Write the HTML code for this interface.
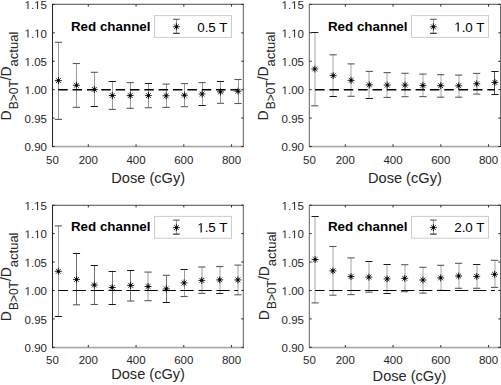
<!DOCTYPE html>
<html><head><meta charset="utf-8"><style>
html,body{margin:0;padding:0;background:#fff;}
body{width:501px;height:385px;overflow:hidden;}
svg{display:block;font-family:"Liberation Sans",sans-serif;}
</style></head><body>
<svg width="501" height="385" viewBox="0 0 501 385">
<rect width="501" height="385" fill="#fff"/>
<g><line x1="58.5" y1="42.3" x2="58.5" y2="119.4" stroke="#9a9a9a" stroke-width="1"/><line x1="54.8" y1="42.3" x2="62" y2="42.3" stroke="#5a5a5a" stroke-width="1.1"/><line x1="54.8" y1="119.4" x2="62" y2="119.4" stroke="#5a5a5a" stroke-width="1.1"/><line x1="76.5" y1="63.5" x2="76.5" y2="107.3" stroke="#9a9a9a" stroke-width="1"/><line x1="72.8" y1="63.5" x2="80" y2="63.5" stroke="#5a5a5a" stroke-width="1.1"/><line x1="72.8" y1="107.3" x2="80" y2="107.3" stroke="#5a5a5a" stroke-width="1.1"/><line x1="94.5" y1="72.3" x2="94.5" y2="106.3" stroke="#9a9a9a" stroke-width="1"/><line x1="90.7" y1="72.3" x2="97.9" y2="72.3" stroke="#5a5a5a" stroke-width="1.1"/><line x1="90.7" y1="106.5" x2="97.9" y2="106.5" stroke="#1a1a1a" stroke-width="1"/><line x1="112.5" y1="81.3" x2="112.5" y2="109.4" stroke="#9a9a9a" stroke-width="1"/><line x1="108.7" y1="81.5" x2="115.9" y2="81.5" stroke="#1a1a1a" stroke-width="1"/><line x1="108.7" y1="109.4" x2="115.9" y2="109.4" stroke="#5a5a5a" stroke-width="1.1"/><line x1="130.5" y1="82.6" x2="130.5" y2="108.3" stroke="#9a9a9a" stroke-width="1"/><line x1="126.6" y1="82.6" x2="133.8" y2="82.6" stroke="#5a5a5a" stroke-width="1.1"/><line x1="126.6" y1="108.3" x2="133.8" y2="108.3" stroke="#5a5a5a" stroke-width="1.1"/><line x1="148.5" y1="83.4" x2="148.5" y2="107.7" stroke="#9a9a9a" stroke-width="1"/><line x1="144.8" y1="83.5" x2="152" y2="83.5" stroke="#1a1a1a" stroke-width="1"/><line x1="144.8" y1="107.7" x2="152" y2="107.7" stroke="#5a5a5a" stroke-width="1.1"/><line x1="166.5" y1="84.1" x2="166.5" y2="107.4" stroke="#9a9a9a" stroke-width="1"/><line x1="162.5" y1="84.1" x2="169.7" y2="84.1" stroke="#5a5a5a" stroke-width="1.1"/><line x1="162.5" y1="107.4" x2="169.7" y2="107.4" stroke="#5a5a5a" stroke-width="1.1"/><line x1="184.5" y1="83.6" x2="184.5" y2="106.7" stroke="#9a9a9a" stroke-width="1"/><line x1="180.8" y1="83.6" x2="188" y2="83.6" stroke="#5a5a5a" stroke-width="1.1"/><line x1="180.8" y1="106.7" x2="188" y2="106.7" stroke="#5a5a5a" stroke-width="1.1"/><line x1="202.5" y1="82.6" x2="202.5" y2="105.4" stroke="#9a9a9a" stroke-width="1"/><line x1="198.5" y1="82.6" x2="205.7" y2="82.6" stroke="#5a5a5a" stroke-width="1.1"/><line x1="198.5" y1="105.5" x2="205.7" y2="105.5" stroke="#1a1a1a" stroke-width="1"/><line x1="220.5" y1="81.3" x2="220.5" y2="103.3" stroke="#9a9a9a" stroke-width="1"/><line x1="216.9" y1="81.5" x2="224.1" y2="81.5" stroke="#1a1a1a" stroke-width="1"/><line x1="216.9" y1="103.3" x2="224.1" y2="103.3" stroke="#5a5a5a" stroke-width="1.1"/><line x1="238.5" y1="79.5" x2="238.5" y2="103.5" stroke="#9a9a9a" stroke-width="1"/><line x1="234.4" y1="79.5" x2="241.6" y2="79.5" stroke="#5a5a5a" stroke-width="1.1"/><line x1="234.4" y1="103.5" x2="241.6" y2="103.5" stroke="#5a5a5a" stroke-width="1.1"/><line x1="58.2" y1="89.8" x2="238" y2="89.8" stroke="#000" stroke-width="1.6" stroke-dasharray="9.5 4.85" stroke-dashoffset="0"/><g stroke="#000" stroke-width="0.85"><line x1="54.9" y1="80.6" x2="61.9" y2="80.6"/><line x1="58.4" y1="77.1" x2="58.4" y2="84.1"/><line x1="56" y1="78.2" x2="60.8" y2="83"/><line x1="56" y1="83" x2="60.8" y2="78.2"/></g><circle cx="58.4" cy="80.6" r="1.35" fill="#000"/><g stroke="#000" stroke-width="0.85"><line x1="72.9" y1="85.3" x2="79.9" y2="85.3"/><line x1="76.4" y1="81.8" x2="76.4" y2="88.8"/><line x1="74" y1="82.9" x2="78.8" y2="87.7"/><line x1="74" y1="87.7" x2="78.8" y2="82.9"/></g><circle cx="76.4" cy="85.3" r="1.35" fill="#000"/><g stroke="#000" stroke-width="0.85"><line x1="90.8" y1="89.4" x2="97.8" y2="89.4"/><line x1="94.3" y1="85.9" x2="94.3" y2="92.9"/><line x1="91.9" y1="87" x2="96.7" y2="91.8"/><line x1="91.9" y1="91.8" x2="96.7" y2="87"/></g><circle cx="94.3" cy="89.4" r="1.35" fill="#000"/><g stroke="#000" stroke-width="0.85"><line x1="108.8" y1="95.5" x2="115.8" y2="95.5"/><line x1="112.3" y1="92" x2="112.3" y2="99"/><line x1="109.9" y1="93.1" x2="114.7" y2="97.9"/><line x1="109.9" y1="97.9" x2="114.7" y2="93.1"/></g><circle cx="112.3" cy="95.5" r="1.35" fill="#000"/><g stroke="#000" stroke-width="0.85"><line x1="126.7" y1="95.6" x2="133.7" y2="95.6"/><line x1="130.2" y1="92.1" x2="130.2" y2="99.1"/><line x1="127.8" y1="93.2" x2="132.6" y2="98"/><line x1="127.8" y1="98" x2="132.6" y2="93.2"/></g><circle cx="130.2" cy="95.6" r="1.35" fill="#000"/><g stroke="#000" stroke-width="0.85"><line x1="144.9" y1="95.6" x2="151.9" y2="95.6"/><line x1="148.4" y1="92.1" x2="148.4" y2="99.1"/><line x1="146" y1="93.2" x2="150.8" y2="98"/><line x1="146" y1="98" x2="150.8" y2="93.2"/></g><circle cx="148.4" cy="95.6" r="1.35" fill="#000"/><g stroke="#000" stroke-width="0.85"><line x1="162.6" y1="95.8" x2="169.6" y2="95.8"/><line x1="166.1" y1="92.3" x2="166.1" y2="99.3"/><line x1="163.7" y1="93.4" x2="168.5" y2="98.2"/><line x1="163.7" y1="98.2" x2="168.5" y2="93.4"/></g><circle cx="166.1" cy="95.8" r="1.35" fill="#000"/><g stroke="#000" stroke-width="0.85"><line x1="180.9" y1="95.2" x2="187.9" y2="95.2"/><line x1="184.4" y1="91.7" x2="184.4" y2="98.7"/><line x1="182" y1="92.8" x2="186.8" y2="97.6"/><line x1="182" y1="97.6" x2="186.8" y2="92.8"/></g><circle cx="184.4" cy="95.2" r="1.35" fill="#000"/><g stroke="#000" stroke-width="0.85"><line x1="198.6" y1="94" x2="205.6" y2="94"/><line x1="202.1" y1="90.5" x2="202.1" y2="97.5"/><line x1="199.7" y1="91.6" x2="204.5" y2="96.4"/><line x1="199.7" y1="96.4" x2="204.5" y2="91.6"/></g><circle cx="202.1" cy="94" r="1.35" fill="#000"/><g stroke="#000" stroke-width="0.85"><line x1="217" y1="91.9" x2="224" y2="91.9"/><line x1="220.5" y1="88.4" x2="220.5" y2="95.4"/><line x1="218.1" y1="89.5" x2="222.9" y2="94.3"/><line x1="218.1" y1="94.3" x2="222.9" y2="89.5"/></g><circle cx="220.5" cy="91.9" r="1.35" fill="#000"/><g stroke="#000" stroke-width="0.85"><line x1="234.5" y1="91.2" x2="241.5" y2="91.2"/><line x1="238" y1="87.7" x2="238" y2="94.7"/><line x1="235.6" y1="88.8" x2="240.4" y2="93.6"/><line x1="235.6" y1="93.6" x2="240.4" y2="88.8"/></g><circle cx="238" cy="91.2" r="1.35" fill="#000"/><rect x="52" y="3" width="192" height="1" fill="#d6d6d6"/><rect x="52" y="145" width="192" height="1" fill="#e6e6e6"/><rect x="52" y="147" width="192" height="1" fill="#dcdcdc"/><rect x="242" y="4" width="1" height="143" fill="#dedede"/><rect x="52" y="4" width="192" height="1" fill="#717171"/><rect x="52" y="146" width="192" height="1" fill="#a9a9a9"/><rect x="52" y="4" width="1" height="143" fill="#242424"/><rect x="243" y="4" width="1" height="143" fill="#7e7e7e"/><path d="M52.5 146.5h2.2M243.5 146.5h-2.2M52.5 118.08h2.2M243.5 118.08h-2.2M52.5 89.66h2.2M243.5 89.66h-2.2M52.5 61.24h2.2M243.5 61.24h-2.2M52.5 32.82h2.2M243.5 32.82h-2.2M52.5 4.4h2.2M243.5 4.4h-2.2M88.31 146.5v-2.2M88.31 4.4v2.2M136.06 146.5v-2.2M136.06 4.4v2.2M183.81 146.5v-2.2M183.81 4.4v2.2M231.56 146.5v-2.2M231.56 4.4v2.2" stroke="#262626" stroke-width="1" fill="none"/><g font-size="11.5" fill="#262626"><text x="52.5" y="164" text-anchor="middle">50</text><text x="88.31" y="164" text-anchor="middle">200</text><text x="136.06" y="164" text-anchor="middle">400</text><text x="183.81" y="164" text-anchor="middle">600</text><text x="231.56" y="164" text-anchor="middle">800</text></g><text x="24.62" y="151.2" font-size="11.5" fill="#262626">0.90</text><text x="24.62" y="122.78" font-size="11.5" fill="#262626">0.95</text><path d="M27.51 94.36 L27.51 87.41 L25.73 88.69 L25.73 87.73 L27.6 86.45 L28.53 86.45 L28.53 94.36Z" fill="#262626"/><text x="31.02" y="94.36" font-size="11.5" fill="#262626">.00</text><path d="M27.51 65.94 L27.51 58.99 L25.73 60.27 L25.73 59.31 L27.6 58.03 L28.53 58.03 L28.53 65.94Z" fill="#262626"/><text x="31.02" y="65.94" font-size="11.5" fill="#262626">.05</text><path d="M27.51 37.52 L27.51 30.57 L25.73 31.85 L25.73 30.89 L27.6 29.61 L28.53 29.61 L28.53 37.52Z" fill="#262626"/><text x="31.02" y="37.52" font-size="11.5" fill="#262626">.</text><path d="M37.1 37.52 L37.1 30.57 L35.32 31.85 L35.32 30.89 L37.19 29.61 L38.12 29.61 L38.12 37.52Z" fill="#262626"/><text x="40.61" y="37.52" font-size="11.5" fill="#262626">0</text><path d="M27.51 9.1 L27.51 2.15 L25.73 3.43 L25.73 2.47 L27.6 1.19 L28.53 1.19 L28.53 9.1Z" fill="#262626"/><text x="31.02" y="9.1" font-size="11.5" fill="#262626">.</text><path d="M37.1 9.1 L37.1 2.15 L35.32 3.43 L35.32 2.47 L37.19 1.19 L38.12 1.19 L38.12 9.1Z" fill="#262626"/><text x="40.61" y="9.1" font-size="11.5" fill="#262626">5</text><text x="148.2" y="182.6" text-anchor="middle" font-size="14.6" fill="#262626">Dose (cGy)</text><g transform="translate(0 0)"><text transform="rotate(-90)" fill="#262626"><tspan x="-120.4" y="10.9" font-size="14">D</tspan><tspan x="-109.3" y="18" font-size="12">B&gt;0T</tspan><tspan x="-80.3" y="10.9" font-size="14">/D</tspan><tspan x="-66.4" y="18" font-size="13">actual</tspan></text></g><text x="70.9" y="30.5" font-size="13.4" font-weight="bold" fill="#000">Red channel</text><rect x="154.5" y="15.6" width="77" height="21.8" fill="#fff" stroke="#cccccc" stroke-width="1"/><line x1="176.4" y1="19.3" x2="176.4" y2="33.3" stroke="#8c8c8c" stroke-width="1"/><line x1="173.1" y1="19.3" x2="179.7" y2="19.3" stroke="#5a5a5a" stroke-width="1.1"/><line x1="173.1" y1="33.3" x2="179.7" y2="33.3" stroke="#222" stroke-width="1.1"/><g stroke="#000" stroke-width="0.85"><line x1="172.9" y1="26.8" x2="179.9" y2="26.8"/><line x1="176.4" y1="23.3" x2="176.4" y2="30.3"/><line x1="174" y1="24.4" x2="178.8" y2="29.2"/><line x1="174" y1="29.2" x2="178.8" y2="24.4"/></g><circle cx="176.4" cy="26.8" r="1.35" fill="#000"/><text x="197.2" y="31.6" font-size="13.4" fill="#000">0.5 T</text></g>
<g><line x1="315" y1="32.3" x2="315" y2="105.8" stroke="#a8a8a8" stroke-width="1"/><line x1="311.2" y1="32.5" x2="318.4" y2="32.5" stroke="#1a1a1a" stroke-width="1"/><line x1="311.2" y1="105.8" x2="318.4" y2="105.8" stroke="#5a5a5a" stroke-width="1.1"/><line x1="333" y1="54.8" x2="333" y2="96.4" stroke="#a8a8a8" stroke-width="1"/><line x1="329.6" y1="54.8" x2="336.8" y2="54.8" stroke="#5a5a5a" stroke-width="1.1"/><line x1="329.6" y1="96.5" x2="336.8" y2="96.5" stroke="#1a1a1a" stroke-width="1"/><line x1="351" y1="63.9" x2="351" y2="96.3" stroke="#a8a8a8" stroke-width="1"/><line x1="347.5" y1="63.9" x2="354.7" y2="63.9" stroke="#5a5a5a" stroke-width="1.1"/><line x1="347.5" y1="96.3" x2="354.7" y2="96.3" stroke="#5a5a5a" stroke-width="1.1"/><line x1="369" y1="71.4" x2="369" y2="98.1" stroke="#a8a8a8" stroke-width="1"/><line x1="365.7" y1="71.4" x2="372.9" y2="71.4" stroke="#5a5a5a" stroke-width="1.1"/><line x1="365.7" y1="98.5" x2="372.9" y2="98.5" stroke="#1a1a1a" stroke-width="1"/><line x1="387" y1="72.6" x2="387" y2="97.4" stroke="#a8a8a8" stroke-width="1"/><line x1="383.6" y1="72.6" x2="390.8" y2="72.6" stroke="#5a5a5a" stroke-width="1.1"/><line x1="383.6" y1="97.4" x2="390.8" y2="97.4" stroke="#5a5a5a" stroke-width="1.1"/><line x1="405" y1="73.3" x2="405" y2="96.7" stroke="#a8a8a8" stroke-width="1"/><line x1="401.4" y1="73.3" x2="408.6" y2="73.3" stroke="#5a5a5a" stroke-width="1.1"/><line x1="401.4" y1="96.7" x2="408.6" y2="96.7" stroke="#5a5a5a" stroke-width="1.1"/><line x1="423" y1="74.1" x2="423" y2="96.6" stroke="#a8a8a8" stroke-width="1"/><line x1="419.3" y1="74.1" x2="426.5" y2="74.1" stroke="#5a5a5a" stroke-width="1.1"/><line x1="419.3" y1="96.6" x2="426.5" y2="96.6" stroke="#5a5a5a" stroke-width="1.1"/><line x1="441" y1="74.7" x2="441" y2="97.2" stroke="#a8a8a8" stroke-width="1"/><line x1="437.1" y1="74.7" x2="444.3" y2="74.7" stroke="#5a5a5a" stroke-width="1.1"/><line x1="437.1" y1="97.2" x2="444.3" y2="97.2" stroke="#5a5a5a" stroke-width="1.1"/><line x1="459" y1="75.1" x2="459" y2="97.2" stroke="#a8a8a8" stroke-width="1"/><line x1="455.1" y1="75.1" x2="462.3" y2="75.1" stroke="#5a5a5a" stroke-width="1.1"/><line x1="455.1" y1="97.2" x2="462.3" y2="97.2" stroke="#5a5a5a" stroke-width="1.1"/><line x1="477" y1="73.4" x2="477" y2="94.1" stroke="#a8a8a8" stroke-width="1"/><line x1="473.1" y1="73.4" x2="480.3" y2="73.4" stroke="#5a5a5a" stroke-width="1.1"/><line x1="473.1" y1="94.1" x2="480.3" y2="94.1" stroke="#5a5a5a" stroke-width="1.1"/><line x1="494.5" y1="71.2" x2="494.5" y2="94.2" stroke="#555555" stroke-width="1"/><line x1="491.3" y1="71.5" x2="498.5" y2="71.5" stroke="#1a1a1a" stroke-width="1"/><line x1="491.3" y1="94.5" x2="498.5" y2="94.5" stroke="#1a1a1a" stroke-width="1"/><line x1="315.1" y1="89.8" x2="494.8" y2="89.8" stroke="#000" stroke-width="1.6" stroke-dasharray="9.5 4.85" stroke-dashoffset="0"/><g stroke="#000" stroke-width="0.85"><line x1="311.3" y1="69" x2="318.3" y2="69"/><line x1="314.8" y1="65.5" x2="314.8" y2="72.5"/><line x1="312.4" y1="66.6" x2="317.2" y2="71.4"/><line x1="312.4" y1="71.4" x2="317.2" y2="66.6"/></g><circle cx="314.8" cy="69" r="1.35" fill="#000"/><g stroke="#000" stroke-width="0.85"><line x1="329.7" y1="75.6" x2="336.7" y2="75.6"/><line x1="333.2" y1="72.1" x2="333.2" y2="79.1"/><line x1="330.8" y1="73.2" x2="335.6" y2="78"/><line x1="330.8" y1="78" x2="335.6" y2="73.2"/></g><circle cx="333.2" cy="75.6" r="1.35" fill="#000"/><g stroke="#000" stroke-width="0.85"><line x1="347.6" y1="80.3" x2="354.6" y2="80.3"/><line x1="351.1" y1="76.8" x2="351.1" y2="83.8"/><line x1="348.7" y1="77.9" x2="353.5" y2="82.7"/><line x1="348.7" y1="82.7" x2="353.5" y2="77.9"/></g><circle cx="351.1" cy="80.3" r="1.35" fill="#000"/><g stroke="#000" stroke-width="0.85"><line x1="365.8" y1="84.9" x2="372.8" y2="84.9"/><line x1="369.3" y1="81.4" x2="369.3" y2="88.4"/><line x1="366.9" y1="82.5" x2="371.7" y2="87.3"/><line x1="366.9" y1="87.3" x2="371.7" y2="82.5"/></g><circle cx="369.3" cy="84.9" r="1.35" fill="#000"/><g stroke="#000" stroke-width="0.85"><line x1="383.7" y1="85.1" x2="390.7" y2="85.1"/><line x1="387.2" y1="81.6" x2="387.2" y2="88.6"/><line x1="384.8" y1="82.7" x2="389.6" y2="87.5"/><line x1="384.8" y1="87.5" x2="389.6" y2="82.7"/></g><circle cx="387.2" cy="85.1" r="1.35" fill="#000"/><g stroke="#000" stroke-width="0.85"><line x1="401.5" y1="85.1" x2="408.5" y2="85.1"/><line x1="405" y1="81.6" x2="405" y2="88.6"/><line x1="402.6" y1="82.7" x2="407.4" y2="87.5"/><line x1="402.6" y1="87.5" x2="407.4" y2="82.7"/></g><circle cx="405" cy="85.1" r="1.35" fill="#000"/><g stroke="#000" stroke-width="0.85"><line x1="419.4" y1="85.4" x2="426.4" y2="85.4"/><line x1="422.9" y1="81.9" x2="422.9" y2="88.9"/><line x1="420.5" y1="83" x2="425.3" y2="87.8"/><line x1="420.5" y1="87.8" x2="425.3" y2="83"/></g><circle cx="422.9" cy="85.4" r="1.35" fill="#000"/><g stroke="#000" stroke-width="0.85"><line x1="437.2" y1="85.7" x2="444.2" y2="85.7"/><line x1="440.7" y1="82.2" x2="440.7" y2="89.2"/><line x1="438.3" y1="83.3" x2="443.1" y2="88.1"/><line x1="438.3" y1="88.1" x2="443.1" y2="83.3"/></g><circle cx="440.7" cy="85.7" r="1.35" fill="#000"/><g stroke="#000" stroke-width="0.85"><line x1="455.2" y1="85.8" x2="462.2" y2="85.8"/><line x1="458.7" y1="82.3" x2="458.7" y2="89.3"/><line x1="456.3" y1="83.4" x2="461.1" y2="88.2"/><line x1="456.3" y1="88.2" x2="461.1" y2="83.4"/></g><circle cx="458.7" cy="85.8" r="1.35" fill="#000"/><g stroke="#000" stroke-width="0.85"><line x1="473.2" y1="83.8" x2="480.2" y2="83.8"/><line x1="476.7" y1="80.3" x2="476.7" y2="87.3"/><line x1="474.3" y1="81.4" x2="479.1" y2="86.2"/><line x1="474.3" y1="86.2" x2="479.1" y2="81.4"/></g><circle cx="476.7" cy="83.8" r="1.35" fill="#000"/><g stroke="#000" stroke-width="0.85"><line x1="491.4" y1="82.4" x2="498.4" y2="82.4"/><line x1="494.9" y1="78.9" x2="494.9" y2="85.9"/><line x1="492.5" y1="80" x2="497.3" y2="84.8"/><line x1="492.5" y1="84.8" x2="497.3" y2="80"/></g><circle cx="494.9" cy="82.4" r="1.35" fill="#000"/><rect x="309" y="3" width="192" height="1" fill="#d6d6d6"/><rect x="309" y="145" width="192" height="1" fill="#e6e6e6"/><rect x="309" y="147" width="192" height="1" fill="#dcdcdc"/><rect x="308" y="4" width="1" height="143" fill="#e2e2e2"/><rect x="309" y="4" width="192" height="1" fill="#717171"/><rect x="309" y="146" width="192" height="1" fill="#a9a9a9"/><rect x="309" y="4" width="1" height="143" fill="#7e7e7e"/><rect x="500" y="4" width="1" height="143" fill="#6e6e6e"/><path d="M309.5 146.5h2.2M500.5 146.5h-2.2M309.5 118.08h2.2M500.5 118.08h-2.2M309.5 89.66h2.2M500.5 89.66h-2.2M309.5 61.24h2.2M500.5 61.24h-2.2M309.5 32.82h2.2M500.5 32.82h-2.2M309.5 4.4h2.2M500.5 4.4h-2.2M345.31 146.5v-2.2M345.31 4.4v2.2M393.06 146.5v-2.2M393.06 4.4v2.2M440.81 146.5v-2.2M440.81 4.4v2.2M488.56 146.5v-2.2M488.56 4.4v2.2" stroke="#262626" stroke-width="1" fill="none"/><g font-size="11.5" fill="#262626"><text x="309.5" y="164" text-anchor="middle">50</text><text x="345.31" y="164" text-anchor="middle">200</text><text x="393.06" y="164" text-anchor="middle">400</text><text x="440.81" y="164" text-anchor="middle">600</text><text x="488.56" y="164" text-anchor="middle">800</text></g><text x="281.62" y="151.2" font-size="11.5" fill="#262626">0.90</text><text x="281.62" y="122.78" font-size="11.5" fill="#262626">0.95</text><path d="M284.51 94.36 L284.51 87.41 L282.73 88.69 L282.73 87.73 L284.6 86.45 L285.53 86.45 L285.53 94.36Z" fill="#262626"/><text x="288.01" y="94.36" font-size="11.5" fill="#262626">.00</text><path d="M284.51 65.94 L284.51 58.99 L282.73 60.27 L282.73 59.31 L284.6 58.03 L285.53 58.03 L285.53 65.94Z" fill="#262626"/><text x="288.01" y="65.94" font-size="11.5" fill="#262626">.05</text><path d="M284.51 37.52 L284.51 30.57 L282.73 31.85 L282.73 30.89 L284.6 29.61 L285.53 29.61 L285.53 37.52Z" fill="#262626"/><text x="288.01" y="37.52" font-size="11.5" fill="#262626">.</text><path d="M294.1 37.52 L294.1 30.57 L292.32 31.85 L292.32 30.89 L294.19 29.61 L295.12 29.61 L295.12 37.52Z" fill="#262626"/><text x="297.61" y="37.52" font-size="11.5" fill="#262626">0</text><path d="M284.51 9.1 L284.51 2.15 L282.73 3.43 L282.73 2.47 L284.6 1.19 L285.53 1.19 L285.53 9.1Z" fill="#262626"/><text x="288.01" y="9.1" font-size="11.5" fill="#262626">.</text><path d="M294.1 9.1 L294.1 2.15 L292.32 3.43 L292.32 2.47 L294.19 1.19 L295.12 1.19 L295.12 9.1Z" fill="#262626"/><text x="297.61" y="9.1" font-size="11.5" fill="#262626">5</text><text x="404.9" y="182.7" text-anchor="middle" font-size="14.6" fill="#262626">Dose (cGy)</text><g transform="translate(257 0)"><text transform="rotate(-90)" fill="#262626"><tspan x="-120.4" y="10.9" font-size="14">D</tspan><tspan x="-109.3" y="18" font-size="12">B&gt;0T</tspan><tspan x="-80.3" y="10.9" font-size="14">/D</tspan><tspan x="-66.4" y="18" font-size="13">actual</tspan></text></g><text x="327.9" y="30.5" font-size="13.4" font-weight="bold" fill="#000">Red channel</text><rect x="411.5" y="15.6" width="77" height="21.8" fill="#fff" stroke="#cccccc" stroke-width="1"/><line x1="433.4" y1="19.3" x2="433.4" y2="33.3" stroke="#8c8c8c" stroke-width="1"/><line x1="430.1" y1="19.3" x2="436.7" y2="19.3" stroke="#5a5a5a" stroke-width="1.1"/><line x1="430.1" y1="33.3" x2="436.7" y2="33.3" stroke="#222" stroke-width="1.1"/><g stroke="#000" stroke-width="0.85"><line x1="429.9" y1="26.8" x2="436.9" y2="26.8"/><line x1="433.4" y1="23.3" x2="433.4" y2="30.3"/><line x1="431" y1="24.4" x2="435.8" y2="29.2"/><line x1="431" y1="29.2" x2="435.8" y2="24.4"/></g><circle cx="433.4" cy="26.8" r="1.35" fill="#000"/><path d="M457.57 31.6 L457.57 23.51 L455.49 24.99 L455.49 23.88 L457.67 22.38 L458.75 22.38 L458.75 31.6Z" fill="#000"/><text x="461.65" y="31.6" font-size="13.4" fill="#000">.0 T</text></g>
<g><line x1="58.5" y1="225.9" x2="58.5" y2="316.5" stroke="#a0a0a0" stroke-width="1"/><line x1="54.7" y1="225.9" x2="61.9" y2="225.9" stroke="#5a5a5a" stroke-width="1.1"/><line x1="54.7" y1="316.5" x2="61.9" y2="316.5" stroke="#1a1a1a" stroke-width="1"/><line x1="76.5" y1="253.5" x2="76.5" y2="304.8" stroke="#6e6e6e" stroke-width="1"/><line x1="72.9" y1="253.5" x2="80.1" y2="253.5" stroke="#1a1a1a" stroke-width="1"/><line x1="72.9" y1="304.8" x2="80.1" y2="304.8" stroke="#5a5a5a" stroke-width="1.1"/><line x1="94.5" y1="265.1" x2="94.5" y2="304.5" stroke="#6e6e6e" stroke-width="1"/><line x1="90.7" y1="265.5" x2="97.9" y2="265.5" stroke="#1a1a1a" stroke-width="1"/><line x1="90.7" y1="304.5" x2="97.9" y2="304.5" stroke="#5a5a5a" stroke-width="1.1"/><line x1="112.5" y1="271.3" x2="112.5" y2="304.3" stroke="#777777" stroke-width="1"/><line x1="108.6" y1="271.5" x2="115.8" y2="271.5" stroke="#1a1a1a" stroke-width="1"/><line x1="108.6" y1="304.5" x2="115.8" y2="304.5" stroke="#1a1a1a" stroke-width="1"/><line x1="130.5" y1="270.4" x2="130.5" y2="301" stroke="#777777" stroke-width="1"/><line x1="127.1" y1="270.5" x2="134.3" y2="270.5" stroke="#1a1a1a" stroke-width="1"/><line x1="127.1" y1="301" x2="134.3" y2="301" stroke="#5a5a5a" stroke-width="1.1"/><line x1="148" y1="272.1" x2="148" y2="300.7" stroke="#a0a0a0" stroke-width="1"/><line x1="144.5" y1="272.1" x2="151.7" y2="272.1" stroke="#5a5a5a" stroke-width="1.1"/><line x1="144.5" y1="300.7" x2="151.7" y2="300.7" stroke="#5a5a5a" stroke-width="1.1"/><line x1="166.5" y1="275.3" x2="166.5" y2="302.4" stroke="#6e6e6e" stroke-width="1"/><line x1="162.7" y1="275.3" x2="169.9" y2="275.3" stroke="#5a5a5a" stroke-width="1.1"/><line x1="162.7" y1="302.5" x2="169.9" y2="302.5" stroke="#1a1a1a" stroke-width="1"/><line x1="184.5" y1="269.4" x2="184.5" y2="296.5" stroke="#a0a0a0" stroke-width="1"/><line x1="180.5" y1="269.5" x2="187.7" y2="269.5" stroke="#1a1a1a" stroke-width="1"/><line x1="180.5" y1="296.5" x2="187.7" y2="296.5" stroke="#5a5a5a" stroke-width="1.1"/><line x1="202" y1="267" x2="202" y2="293.4" stroke="#a0a0a0" stroke-width="1"/><line x1="198.2" y1="267" x2="205.4" y2="267" stroke="#5a5a5a" stroke-width="1.1"/><line x1="198.2" y1="293.4" x2="205.4" y2="293.4" stroke="#5a5a5a" stroke-width="1.1"/><line x1="220" y1="266.5" x2="220" y2="293" stroke="#a0a0a0" stroke-width="1"/><line x1="216.1" y1="266.5" x2="223.3" y2="266.5" stroke="#5a5a5a" stroke-width="1.1"/><line x1="216.1" y1="293.5" x2="223.3" y2="293.5" stroke="#1a1a1a" stroke-width="1"/><line x1="238" y1="265.1" x2="238" y2="294.8" stroke="#a0a0a0" stroke-width="1"/><line x1="234.3" y1="265.1" x2="241.5" y2="265.1" stroke="#5a5a5a" stroke-width="1.1"/><line x1="234.3" y1="294.8" x2="241.5" y2="294.8" stroke="#5a5a5a" stroke-width="1.1"/><line x1="58.3" y1="290.5" x2="237.9" y2="290.5" stroke="#000" stroke-width="1.2" stroke-dasharray="13.3 4.68" stroke-dashoffset="3.7"/><g stroke="#000" stroke-width="0.85"><line x1="54.8" y1="271.3" x2="61.8" y2="271.3"/><line x1="58.3" y1="267.8" x2="58.3" y2="274.8"/><line x1="55.9" y1="268.9" x2="60.7" y2="273.7"/><line x1="55.9" y1="273.7" x2="60.7" y2="268.9"/></g><circle cx="58.3" cy="271.3" r="1.35" fill="#000"/><g stroke="#000" stroke-width="0.85"><line x1="73" y1="279.4" x2="80" y2="279.4"/><line x1="76.5" y1="275.9" x2="76.5" y2="282.9"/><line x1="74.1" y1="277" x2="78.9" y2="281.8"/><line x1="74.1" y1="281.8" x2="78.9" y2="277"/></g><circle cx="76.5" cy="279.4" r="1.35" fill="#000"/><g stroke="#000" stroke-width="0.85"><line x1="90.8" y1="285" x2="97.8" y2="285"/><line x1="94.3" y1="281.5" x2="94.3" y2="288.5"/><line x1="91.9" y1="282.6" x2="96.7" y2="287.4"/><line x1="91.9" y1="287.4" x2="96.7" y2="282.6"/></g><circle cx="94.3" cy="285" r="1.35" fill="#000"/><g stroke="#000" stroke-width="0.85"><line x1="108.7" y1="287.5" x2="115.7" y2="287.5"/><line x1="112.2" y1="284" x2="112.2" y2="291"/><line x1="109.8" y1="285.1" x2="114.6" y2="289.9"/><line x1="109.8" y1="289.9" x2="114.6" y2="285.1"/></g><circle cx="112.2" cy="287.5" r="1.35" fill="#000"/><g stroke="#000" stroke-width="0.85"><line x1="127.2" y1="285.4" x2="134.2" y2="285.4"/><line x1="130.7" y1="281.9" x2="130.7" y2="288.9"/><line x1="128.3" y1="283" x2="133.1" y2="287.8"/><line x1="128.3" y1="287.8" x2="133.1" y2="283"/></g><circle cx="130.7" cy="285.4" r="1.35" fill="#000"/><g stroke="#000" stroke-width="0.85"><line x1="144.6" y1="286.5" x2="151.6" y2="286.5"/><line x1="148.1" y1="283" x2="148.1" y2="290"/><line x1="145.7" y1="284.1" x2="150.5" y2="288.9"/><line x1="145.7" y1="288.9" x2="150.5" y2="284.1"/></g><circle cx="148.1" cy="286.5" r="1.35" fill="#000"/><g stroke="#000" stroke-width="0.85"><line x1="162.8" y1="288.9" x2="169.8" y2="288.9"/><line x1="166.3" y1="285.4" x2="166.3" y2="292.4"/><line x1="163.9" y1="286.5" x2="168.7" y2="291.3"/><line x1="163.9" y1="291.3" x2="168.7" y2="286.5"/></g><circle cx="166.3" cy="288.9" r="1.35" fill="#000"/><g stroke="#000" stroke-width="0.85"><line x1="180.6" y1="282.9" x2="187.6" y2="282.9"/><line x1="184.1" y1="279.4" x2="184.1" y2="286.4"/><line x1="181.7" y1="280.5" x2="186.5" y2="285.3"/><line x1="181.7" y1="285.3" x2="186.5" y2="280.5"/></g><circle cx="184.1" cy="282.9" r="1.35" fill="#000"/><g stroke="#000" stroke-width="0.85"><line x1="198.3" y1="280.4" x2="205.3" y2="280.4"/><line x1="201.8" y1="276.9" x2="201.8" y2="283.9"/><line x1="199.4" y1="278" x2="204.2" y2="282.8"/><line x1="199.4" y1="282.8" x2="204.2" y2="278"/></g><circle cx="201.8" cy="280.4" r="1.35" fill="#000"/><g stroke="#000" stroke-width="0.85"><line x1="216.2" y1="279.9" x2="223.2" y2="279.9"/><line x1="219.7" y1="276.4" x2="219.7" y2="283.4"/><line x1="217.3" y1="277.5" x2="222.1" y2="282.3"/><line x1="217.3" y1="282.3" x2="222.1" y2="277.5"/></g><circle cx="219.7" cy="279.9" r="1.35" fill="#000"/><g stroke="#000" stroke-width="0.85"><line x1="234.4" y1="279.9" x2="241.4" y2="279.9"/><line x1="237.9" y1="276.4" x2="237.9" y2="283.4"/><line x1="235.5" y1="277.5" x2="240.3" y2="282.3"/><line x1="235.5" y1="282.3" x2="240.3" y2="277.5"/></g><circle cx="237.9" cy="279.9" r="1.35" fill="#000"/><rect x="52" y="204" width="192" height="1" fill="#d6d6d6"/><rect x="52" y="346" width="192" height="1" fill="#e6e6e6"/><rect x="52" y="348" width="192" height="1" fill="#dcdcdc"/><rect x="242" y="205" width="1" height="143" fill="#dedede"/><rect x="52" y="205" width="192" height="1" fill="#717171"/><rect x="52" y="347" width="192" height="1" fill="#a9a9a9"/><rect x="52" y="205" width="1" height="143" fill="#242424"/><rect x="243" y="205" width="1" height="143" fill="#7e7e7e"/><path d="M52.5 347.3h2.2M243.5 347.3h-2.2M52.5 318.88h2.2M243.5 318.88h-2.2M52.5 290.46h2.2M243.5 290.46h-2.2M52.5 262.04h2.2M243.5 262.04h-2.2M52.5 233.62h2.2M243.5 233.62h-2.2M52.5 205.2h2.2M243.5 205.2h-2.2M88.31 347.3v-2.2M88.31 205.2v2.2M136.06 347.3v-2.2M136.06 205.2v2.2M183.81 347.3v-2.2M183.81 205.2v2.2M231.56 347.3v-2.2M231.56 205.2v2.2" stroke="#262626" stroke-width="1" fill="none"/><g font-size="11.5" fill="#262626"><text x="52.5" y="364" text-anchor="middle">50</text><text x="88.31" y="364" text-anchor="middle">200</text><text x="136.06" y="364" text-anchor="middle">400</text><text x="183.81" y="364" text-anchor="middle">600</text><text x="231.56" y="364" text-anchor="middle">800</text></g><text x="24.62" y="352" font-size="11.5" fill="#262626">0.90</text><text x="24.62" y="323.58" font-size="11.5" fill="#262626">0.95</text><path d="M27.51 295.16 L27.51 288.21 L25.73 289.49 L25.73 288.53 L27.6 287.25 L28.53 287.25 L28.53 295.16Z" fill="#262626"/><text x="31.02" y="295.16" font-size="11.5" fill="#262626">.00</text><path d="M27.51 266.74 L27.51 259.79 L25.73 261.07 L25.73 260.11 L27.6 258.83 L28.53 258.83 L28.53 266.74Z" fill="#262626"/><text x="31.02" y="266.74" font-size="11.5" fill="#262626">.05</text><path d="M27.51 238.32 L27.51 231.37 L25.73 232.65 L25.73 231.69 L27.6 230.41 L28.53 230.41 L28.53 238.32Z" fill="#262626"/><text x="31.02" y="238.32" font-size="11.5" fill="#262626">.</text><path d="M37.1 238.32 L37.1 231.37 L35.32 232.65 L35.32 231.69 L37.19 230.41 L38.12 230.41 L38.12 238.32Z" fill="#262626"/><text x="40.61" y="238.32" font-size="11.5" fill="#262626">0</text><path d="M27.51 209.9 L27.51 202.95 L25.73 204.23 L25.73 203.27 L27.6 201.99 L28.53 201.99 L28.53 209.9Z" fill="#262626"/><text x="31.02" y="209.9" font-size="11.5" fill="#262626">.</text><path d="M37.1 209.9 L37.1 202.95 L35.32 204.23 L35.32 203.27 L37.19 201.99 L38.12 201.99 L38.12 209.9Z" fill="#262626"/><text x="40.61" y="209.9" font-size="11.5" fill="#262626">5</text><text x="148.1" y="379.1" text-anchor="middle" font-size="14.6" fill="#262626">Dose (cGy)</text><g transform="translate(0 200.8)"><text transform="rotate(-90)" fill="#262626"><tspan x="-120.4" y="10.9" font-size="14">D</tspan><tspan x="-109.3" y="18" font-size="12">B&gt;0T</tspan><tspan x="-80.3" y="10.9" font-size="14">/D</tspan><tspan x="-66.4" y="18" font-size="13">actual</tspan></text></g><text x="70.9" y="231.3" font-size="13.4" font-weight="bold" fill="#000">Red channel</text><rect x="154.5" y="216.4" width="77" height="21.8" fill="#fff" stroke="#cccccc" stroke-width="1"/><line x1="176.4" y1="220.1" x2="176.4" y2="234.1" stroke="#8c8c8c" stroke-width="1"/><line x1="173.1" y1="220.1" x2="179.7" y2="220.1" stroke="#5a5a5a" stroke-width="1.1"/><line x1="173.1" y1="234.1" x2="179.7" y2="234.1" stroke="#222" stroke-width="1.1"/><g stroke="#000" stroke-width="0.85"><line x1="172.9" y1="227.6" x2="179.9" y2="227.6"/><line x1="176.4" y1="224.1" x2="176.4" y2="231.1"/><line x1="174" y1="225.2" x2="178.8" y2="230"/><line x1="174" y1="230" x2="178.8" y2="225.2"/></g><circle cx="176.4" cy="227.6" r="1.35" fill="#000"/><path d="M200.57 232.4 L200.57 224.31 L198.49 225.79 L198.49 224.68 L200.67 223.18 L201.75 223.18 L201.75 232.4Z" fill="#000"/><text x="204.65" y="232.4" font-size="13.4" fill="#000">.5 T</text></g>
<g><line x1="315" y1="216.5" x2="315" y2="302.9" stroke="#a8a8a8" stroke-width="1"/><line x1="311.5" y1="216.5" x2="318.7" y2="216.5" stroke="#1a1a1a" stroke-width="1"/><line x1="311.5" y1="302.9" x2="318.7" y2="302.9" stroke="#5a5a5a" stroke-width="1.1"/><line x1="333" y1="246.5" x2="333" y2="295.2" stroke="#a8a8a8" stroke-width="1"/><line x1="329.3" y1="246.5" x2="336.5" y2="246.5" stroke="#5a5a5a" stroke-width="1.1"/><line x1="329.3" y1="295.2" x2="336.5" y2="295.2" stroke="#5a5a5a" stroke-width="1.1"/><line x1="351" y1="257.9" x2="351" y2="294.6" stroke="#a8a8a8" stroke-width="1"/><line x1="347.4" y1="257.9" x2="354.6" y2="257.9" stroke="#5a5a5a" stroke-width="1.1"/><line x1="347.4" y1="294.6" x2="354.6" y2="294.6" stroke="#5a5a5a" stroke-width="1.1"/><line x1="369" y1="261.4" x2="369" y2="292.2" stroke="#a8a8a8" stroke-width="1"/><line x1="365.3" y1="261.5" x2="372.5" y2="261.5" stroke="#1a1a1a" stroke-width="1"/><line x1="365.3" y1="292.2" x2="372.5" y2="292.2" stroke="#5a5a5a" stroke-width="1.1"/><line x1="387" y1="264.3" x2="387" y2="293.3" stroke="#a8a8a8" stroke-width="1"/><line x1="383.5" y1="264.5" x2="390.7" y2="264.5" stroke="#1a1a1a" stroke-width="1"/><line x1="383.5" y1="293.5" x2="390.7" y2="293.5" stroke="#1a1a1a" stroke-width="1"/><line x1="405" y1="264.7" x2="405" y2="291.7" stroke="#a8a8a8" stroke-width="1"/><line x1="401.1" y1="264.7" x2="408.3" y2="264.7" stroke="#5a5a5a" stroke-width="1.1"/><line x1="401.1" y1="291.7" x2="408.3" y2="291.7" stroke="#5a5a5a" stroke-width="1.1"/><line x1="423" y1="267.3" x2="423" y2="293.1" stroke="#a8a8a8" stroke-width="1"/><line x1="419.3" y1="267.3" x2="426.5" y2="267.3" stroke="#5a5a5a" stroke-width="1.1"/><line x1="419.3" y1="293.1" x2="426.5" y2="293.1" stroke="#5a5a5a" stroke-width="1.1"/><line x1="441" y1="265.3" x2="441" y2="290.4" stroke="#a8a8a8" stroke-width="1"/><line x1="437.1" y1="265.3" x2="444.3" y2="265.3" stroke="#5a5a5a" stroke-width="1.1"/><line x1="437.1" y1="290.4" x2="444.3" y2="290.4" stroke="#5a5a5a" stroke-width="1.1"/><line x1="459" y1="263.3" x2="459" y2="288.3" stroke="#a8a8a8" stroke-width="1"/><line x1="455" y1="263.3" x2="462.2" y2="263.3" stroke="#5a5a5a" stroke-width="1.1"/><line x1="455" y1="288.3" x2="462.2" y2="288.3" stroke="#5a5a5a" stroke-width="1.1"/><line x1="477" y1="264.3" x2="477" y2="288.3" stroke="#a8a8a8" stroke-width="1"/><line x1="473.1" y1="264.5" x2="480.3" y2="264.5" stroke="#1a1a1a" stroke-width="1"/><line x1="473.1" y1="288.3" x2="480.3" y2="288.3" stroke="#5a5a5a" stroke-width="1.1"/><line x1="495" y1="260.3" x2="495" y2="287.4" stroke="#a8a8a8" stroke-width="1"/><line x1="491" y1="260.3" x2="498.2" y2="260.3" stroke="#5a5a5a" stroke-width="1.1"/><line x1="491" y1="287.4" x2="498.2" y2="287.4" stroke="#5a5a5a" stroke-width="1.1"/><line x1="315.1" y1="290.5" x2="494.8" y2="290.5" stroke="#000" stroke-width="1.2" stroke-dasharray="13.3 4.68" stroke-dashoffset="3.9"/><g stroke="#000" stroke-width="0.85"><line x1="311.6" y1="259.5" x2="318.6" y2="259.5"/><line x1="315.1" y1="256" x2="315.1" y2="263"/><line x1="312.7" y1="257.1" x2="317.5" y2="261.9"/><line x1="312.7" y1="261.9" x2="317.5" y2="257.1"/></g><circle cx="315.1" cy="259.5" r="1.35" fill="#000"/><g stroke="#000" stroke-width="0.85"><line x1="329.4" y1="270.9" x2="336.4" y2="270.9"/><line x1="332.9" y1="267.4" x2="332.9" y2="274.4"/><line x1="330.5" y1="268.5" x2="335.3" y2="273.3"/><line x1="330.5" y1="273.3" x2="335.3" y2="268.5"/></g><circle cx="332.9" cy="270.9" r="1.35" fill="#000"/><g stroke="#000" stroke-width="0.85"><line x1="347.5" y1="276.6" x2="354.5" y2="276.6"/><line x1="351" y1="273.1" x2="351" y2="280.1"/><line x1="348.6" y1="274.2" x2="353.4" y2="279"/><line x1="348.6" y1="279" x2="353.4" y2="274.2"/></g><circle cx="351" cy="276.6" r="1.35" fill="#000"/><g stroke="#000" stroke-width="0.85"><line x1="365.4" y1="277.1" x2="372.4" y2="277.1"/><line x1="368.9" y1="273.6" x2="368.9" y2="280.6"/><line x1="366.5" y1="274.7" x2="371.3" y2="279.5"/><line x1="366.5" y1="279.5" x2="371.3" y2="274.7"/></g><circle cx="368.9" cy="277.1" r="1.35" fill="#000"/><g stroke="#000" stroke-width="0.85"><line x1="383.6" y1="278.9" x2="390.6" y2="278.9"/><line x1="387.1" y1="275.4" x2="387.1" y2="282.4"/><line x1="384.7" y1="276.5" x2="389.5" y2="281.3"/><line x1="384.7" y1="281.3" x2="389.5" y2="276.5"/></g><circle cx="387.1" cy="278.9" r="1.35" fill="#000"/><g stroke="#000" stroke-width="0.85"><line x1="401.2" y1="278.3" x2="408.2" y2="278.3"/><line x1="404.7" y1="274.8" x2="404.7" y2="281.8"/><line x1="402.3" y1="275.9" x2="407.1" y2="280.7"/><line x1="402.3" y1="280.7" x2="407.1" y2="275.9"/></g><circle cx="404.7" cy="278.3" r="1.35" fill="#000"/><g stroke="#000" stroke-width="0.85"><line x1="419.4" y1="280" x2="426.4" y2="280"/><line x1="422.9" y1="276.5" x2="422.9" y2="283.5"/><line x1="420.5" y1="277.6" x2="425.3" y2="282.4"/><line x1="420.5" y1="282.4" x2="425.3" y2="277.6"/></g><circle cx="422.9" cy="280" r="1.35" fill="#000"/><g stroke="#000" stroke-width="0.85"><line x1="437.2" y1="277.9" x2="444.2" y2="277.9"/><line x1="440.7" y1="274.4" x2="440.7" y2="281.4"/><line x1="438.3" y1="275.5" x2="443.1" y2="280.3"/><line x1="438.3" y1="280.3" x2="443.1" y2="275.5"/></g><circle cx="440.7" cy="277.9" r="1.35" fill="#000"/><g stroke="#000" stroke-width="0.85"><line x1="455.1" y1="276" x2="462.1" y2="276"/><line x1="458.6" y1="272.5" x2="458.6" y2="279.5"/><line x1="456.2" y1="273.6" x2="461" y2="278.4"/><line x1="456.2" y1="278.4" x2="461" y2="273.6"/></g><circle cx="458.6" cy="276" r="1.35" fill="#000"/><g stroke="#000" stroke-width="0.85"><line x1="473.2" y1="276.4" x2="480.2" y2="276.4"/><line x1="476.7" y1="272.9" x2="476.7" y2="279.9"/><line x1="474.3" y1="274" x2="479.1" y2="278.8"/><line x1="474.3" y1="278.8" x2="479.1" y2="274"/></g><circle cx="476.7" cy="276.4" r="1.35" fill="#000"/><g stroke="#000" stroke-width="0.85"><line x1="491.1" y1="274.3" x2="498.1" y2="274.3"/><line x1="494.6" y1="270.8" x2="494.6" y2="277.8"/><line x1="492.2" y1="271.9" x2="497" y2="276.7"/><line x1="492.2" y1="276.7" x2="497" y2="271.9"/></g><circle cx="494.6" cy="274.3" r="1.35" fill="#000"/><rect x="309" y="204" width="192" height="1" fill="#d6d6d6"/><rect x="309" y="346" width="192" height="1" fill="#e6e6e6"/><rect x="309" y="348" width="192" height="1" fill="#dcdcdc"/><rect x="308" y="205" width="1" height="143" fill="#e2e2e2"/><rect x="309" y="205" width="192" height="1" fill="#717171"/><rect x="309" y="347" width="192" height="1" fill="#a9a9a9"/><rect x="309" y="205" width="1" height="143" fill="#7e7e7e"/><rect x="500" y="205" width="1" height="143" fill="#6e6e6e"/><path d="M309.5 347.3h2.2M500.5 347.3h-2.2M309.5 318.88h2.2M500.5 318.88h-2.2M309.5 290.46h2.2M500.5 290.46h-2.2M309.5 262.04h2.2M500.5 262.04h-2.2M309.5 233.62h2.2M500.5 233.62h-2.2M309.5 205.2h2.2M500.5 205.2h-2.2M345.31 347.3v-2.2M345.31 205.2v2.2M393.06 347.3v-2.2M393.06 205.2v2.2M440.81 347.3v-2.2M440.81 205.2v2.2M488.56 347.3v-2.2M488.56 205.2v2.2" stroke="#262626" stroke-width="1" fill="none"/><g font-size="11.5" fill="#262626"><text x="309.5" y="364" text-anchor="middle">50</text><text x="345.31" y="364" text-anchor="middle">200</text><text x="393.06" y="364" text-anchor="middle">400</text><text x="440.81" y="364" text-anchor="middle">600</text><text x="488.56" y="364" text-anchor="middle">800</text></g><text x="281.62" y="352" font-size="11.5" fill="#262626">0.90</text><text x="281.62" y="323.58" font-size="11.5" fill="#262626">0.95</text><path d="M284.51 295.16 L284.51 288.21 L282.73 289.49 L282.73 288.53 L284.6 287.25 L285.53 287.25 L285.53 295.16Z" fill="#262626"/><text x="288.01" y="295.16" font-size="11.5" fill="#262626">.00</text><path d="M284.51 266.74 L284.51 259.79 L282.73 261.07 L282.73 260.11 L284.6 258.83 L285.53 258.83 L285.53 266.74Z" fill="#262626"/><text x="288.01" y="266.74" font-size="11.5" fill="#262626">.05</text><path d="M284.51 238.32 L284.51 231.37 L282.73 232.65 L282.73 231.69 L284.6 230.41 L285.53 230.41 L285.53 238.32Z" fill="#262626"/><text x="288.01" y="238.32" font-size="11.5" fill="#262626">.</text><path d="M294.1 238.32 L294.1 231.37 L292.32 232.65 L292.32 231.69 L294.19 230.41 L295.12 230.41 L295.12 238.32Z" fill="#262626"/><text x="297.61" y="238.32" font-size="11.5" fill="#262626">0</text><path d="M284.51 209.9 L284.51 202.95 L282.73 204.23 L282.73 203.27 L284.6 201.99 L285.53 201.99 L285.53 209.9Z" fill="#262626"/><text x="288.01" y="209.9" font-size="11.5" fill="#262626">.</text><path d="M294.1 209.9 L294.1 202.95 L292.32 204.23 L292.32 203.27 L294.19 201.99 L295.12 201.99 L295.12 209.9Z" fill="#262626"/><text x="297.61" y="209.9" font-size="11.5" fill="#262626">5</text><text x="409.5" y="380.9" text-anchor="middle" font-size="14.6" fill="#262626">Dose (cGy)</text><g transform="translate(258.3 199.8)"><text transform="rotate(-90)" fill="#262626"><tspan x="-120.4" y="10.9" font-size="14">D</tspan><tspan x="-109.3" y="18" font-size="12">B&gt;0T</tspan><tspan x="-80.3" y="10.9" font-size="14">/D</tspan><tspan x="-66.4" y="18" font-size="13">actual</tspan></text></g><text x="327.9" y="231.3" font-size="13.4" font-weight="bold" fill="#000">Red channel</text><rect x="411.5" y="216.4" width="77" height="21.8" fill="#fff" stroke="#cccccc" stroke-width="1"/><line x1="433.4" y1="220.1" x2="433.4" y2="234.1" stroke="#8c8c8c" stroke-width="1"/><line x1="430.1" y1="220.1" x2="436.7" y2="220.1" stroke="#5a5a5a" stroke-width="1.1"/><line x1="430.1" y1="234.1" x2="436.7" y2="234.1" stroke="#222" stroke-width="1.1"/><g stroke="#000" stroke-width="0.85"><line x1="429.9" y1="227.6" x2="436.9" y2="227.6"/><line x1="433.4" y1="224.1" x2="433.4" y2="231.1"/><line x1="431" y1="225.2" x2="435.8" y2="230"/><line x1="431" y1="230" x2="435.8" y2="225.2"/></g><circle cx="433.4" cy="227.6" r="1.35" fill="#000"/><text x="454.2" y="232.4" font-size="13.4" fill="#000">2.0 T</text></g>
</svg>
</body></html>
